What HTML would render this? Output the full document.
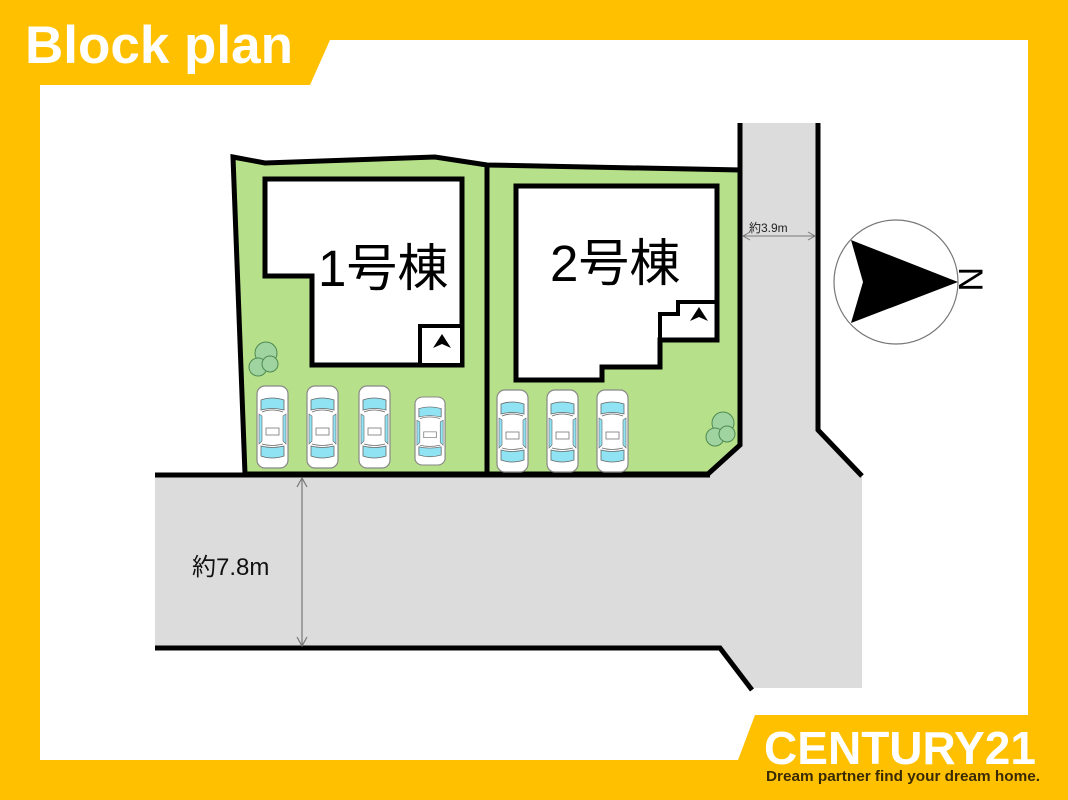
<!DOCTYPE html>
<html><head><meta charset="utf-8"><style>
html,body{margin:0;padding:0;}
body{width:1068px;height:800px;overflow:hidden;background:#FFC000;}
svg{display:block}
</style></head><body>
<svg width="1068" height="800" viewBox="0 0 1068 800" xmlns="http://www.w3.org/2000/svg">
<defs>
<g id="car">
 <rect x="0" y="0" width="31" height="82" rx="8" fill="#fff" stroke="#888" stroke-width="1.2"/>
 <path d="M4 14 Q15 10 27 14 L27 24 Q15 21 4 24 Z" fill="#8fe3f3" stroke="#666" stroke-width="0.8"/>
 <path d="M2 28 L5 30 L5 55 L2 58 Z" fill="#8fe3f3" stroke="#666" stroke-width="0.6"/>
 <path d="M29 28 L26 30 L26 55 L29 58 Z" fill="#8fe3f3" stroke="#666" stroke-width="0.6"/>
 <path d="M4 60 Q15 63 27 60 L27 70 Q15 74 4 70 Z" fill="#8fe3f3" stroke="#666" stroke-width="0.8"/>
 <rect x="9" y="42" width="13" height="7" fill="#fff" stroke="#777" stroke-width="0.8"/>
 <path d="M5 26 Q15 22 26 26 M5 58 Q15 61 26 58" fill="none" stroke="#666" stroke-width="0.8"/>
</g>
<g id="tree">
 <circle cx="3" cy="-2" r="11" fill="#9fd3a0" stroke="#4e8a50" stroke-width="1"/>
 <circle cx="-5" cy="12" r="9" fill="#9fd3a0" stroke="#4e8a50" stroke-width="1"/>
 <circle cx="7" cy="9" r="8" fill="#9fd3a0" stroke="#4e8a50" stroke-width="1"/>
</g>
</defs>
<polygon points="40,85 310,85 330,40 1028,40 1028,715 755,715 738,760 40,760" fill="#fff"/>
<text x="25" y="63" font-family="Liberation Sans, sans-serif" font-weight="bold" font-size="53" fill="#fff">Block plan</text>
<polygon points="740,123 818,123 818,430 862,476 862,688 752,688 720,648 155,648 155,474 708,474 740,445" fill="#dcdcdc"/>
<polygon points="233,157 265,163 435,157 487,165 740,170 740,445 708,474 245,474" fill="#b7e08a" stroke="#000" stroke-width="5" stroke-linejoin="miter"/>
<line x1="487" y1="165" x2="487" y2="474" stroke="#000" stroke-width="5"/>
<line x1="740" y1="123" x2="740" y2="172" stroke="#000" stroke-width="5"/>
<polyline points="818,123 818,430 862,476" fill="none" stroke="#000" stroke-width="5"/>
<line x1="155" y1="475" x2="710" y2="475" stroke="#000" stroke-width="5"/>
<polyline points="155,648 720,648 752,690" fill="none" stroke="#000" stroke-width="5"/>
<polygon points="265,179 462,179 462,365 312,365 312,276 265,276" fill="#fff" stroke="#000" stroke-width="5"/>
<rect x="420" y="326" width="42" height="39" fill="#fff" stroke="#000" stroke-width="4"/>
<polygon points="442,334 433,348 442,344 451,348" fill="#000"/>
<text x="318" y="286" font-family="Liberation Sans, 'Noto Sans CJK JP', sans-serif" font-size="51" fill="#000">1号棟</text>
<polygon points="516,186 717,186 717,340 660,340 660,367 602,367 602,380 516,380" fill="#fff" stroke="#000" stroke-width="5"/>
<polyline points="717,302 678,302 678,314 660,314 660,340" fill="none" stroke="#000" stroke-width="4"/>
<polygon points="699,307 690,321 699,317 708,321" fill="#000"/>
<text x="550" y="281" font-family="Liberation Sans, 'Noto Sans CJK JP', sans-serif" font-size="51" fill="#000">2号棟</text>
<use href="#tree" x="263" y="355"/>
<use href="#tree" x="720" y="425"/>
<use href="#car" x="257" y="386"/>
<use href="#car" x="307" y="386"/>
<use href="#car" x="359" y="386"/>
<g transform="translate(415,397) scale(0.97,0.83)"><use href="#car"/></g>
<use href="#car" x="497" y="390"/>
<use href="#car" x="547" y="390"/>
<use href="#car" x="597" y="390"/>
<line x1="743" y1="236" x2="815" y2="236" stroke="#777" stroke-width="1"/>
<polyline points="750,232 743,236 750,240" fill="none" stroke="#777" stroke-width="1"/>
<polyline points="808,232 815,236 808,240" fill="none" stroke="#777" stroke-width="1"/>
<text x="749" y="232" font-family="Liberation Sans, 'Noto Sans CJK JP', sans-serif" font-size="12" fill="#222">約3.9m</text>
<line x1="302" y1="478" x2="302" y2="646" stroke="#777" stroke-width="1.2"/>
<polyline points="297,487 302,478 307,487" fill="none" stroke="#777" stroke-width="1.2"/>
<polyline points="297,637 302,646 307,637" fill="none" stroke="#777" stroke-width="1.2"/>
<text x="192" y="575" font-family="Liberation Sans, 'Noto Sans CJK JP', sans-serif" font-size="24" fill="#111">約7.8m</text>
<circle cx="896" cy="282" r="62" fill="#fff" stroke="#777" stroke-width="1.2"/>
<polygon points="851,240 863,282 851,323 958,282" fill="#000"/>
<text x="955" y="295" font-family="Liberation Sans, sans-serif" font-size="34" fill="#000" transform="rotate(90 971 283)">N</text>
<text x="764" y="764" font-family="Liberation Sans, sans-serif" font-weight="bold" font-size="46" fill="#fff" textLength="272" lengthAdjust="spacingAndGlyphs">CENTURY21</text>
<text x="766" y="781" font-family="Liberation Sans, sans-serif" font-weight="bold" font-size="15" fill="#3a2a00" textLength="274" lengthAdjust="spacingAndGlyphs">Dream partner find your dream home.</text>
</svg>
</body></html>
